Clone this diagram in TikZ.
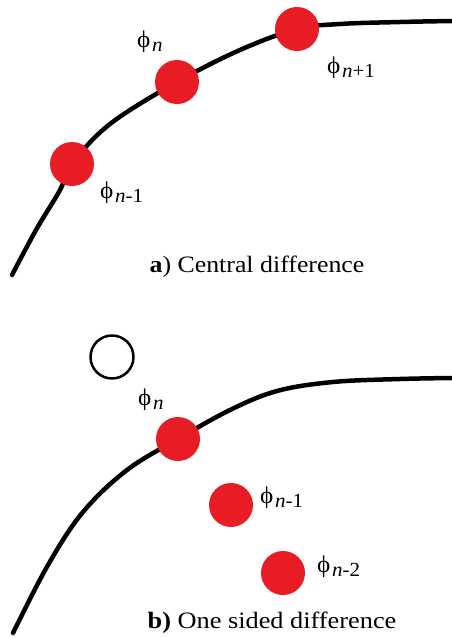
\documentclass[tikz,border=0pt]{standalone}
\usepackage{fontspec}
\setmainfont{Liberation Serif}
\definecolor{dotred}{RGB}{232,28,36}
\begin{document}
\begin{tikzpicture}[x=1pt,y=-1pt,
  curve/.style={line width=4.5pt,black,line cap=round},
  dot/.style={circle,fill=dotred,minimum size=44pt,inner sep=0pt},
  hole/.style={circle,draw=black,line width=2.5pt,minimum size=43pt,inner sep=0pt},
  lab/.style={font=\fontsize{24}{24}\selectfont,inner sep=0pt,anchor=base west},
  captext/.style={font=\fontsize{23.5}{24}\selectfont,inner sep=0pt,anchor=base}]
\useasboundingbox (0,0) rectangle (452,638);
\newcommand{\ph}[1]{\scalebox{1.05}[1]{\symbol{"03D5}\hspace{1.5pt}\raisebox{-4.5pt}{\fontsize{20}{20}\selectfont #1}}}
% top
\draw[curve] plot[smooth,tension=0.6] coordinates {(12,275) (36,230) (60,190) (72,164) (110,124) (177,82) (240,50) (297,29) (340,24) (400,22) (452,21)};
\node[dot] (a1) at (72,164) {};
\node[dot] (a2) at (177,82) {};
\node[dot] (a3) at (297,29) {};
\node[lab] (la1) at (100,198) {\ph{\textit{n}-1}};
\node[lab] (la2) at (137,47) {\ph{\textit{n}}};
\node[lab] (la3) at (327,73) {\ph{\textit{n}+1}};
\node[captext] (ca) at (257,272) {\scalebox{1.1}[1]{\textbf{a}) Central difference}};
% bottom
\draw[curve] plot[smooth,tension=0.6] coordinates {(13,633) (48,565) (83,512) (127,470) (178,439) (230,410) (277,391) (333,382) (400,379) (452,378)};
\node[hole] (o) at (112,357) {};
\node[dot] (b1) at (178,439) {};
\node[dot] (b2) at (231,505) {};
\node[dot] (b3) at (283,573) {};
\node[lab] (lb1) at (138,405) {\ph{\textit{n}}};
\node[lab] (lb2) at (260,503) {\ph{\textit{n}-1}};
\node[lab] (lb3) at (317,572) {\ph{\textit{n}-2}};
\node[captext] (cb) at (272,628) {\scalebox{1.12}[1]{\textbf{b)} One sided difference}};
\end{tikzpicture}
\end{document}
